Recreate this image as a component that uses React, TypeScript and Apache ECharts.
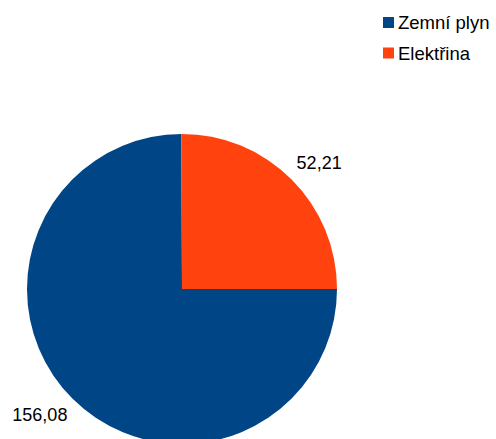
import React, { useEffect, useRef } from "react";
import * as echarts from "echarts";

const categories = ["Zemní plyn", "Elektřina"];
const values = [156.08, 52.21];
const colors = ["#004586", "#ff420e"];

export default function App() {
  const ref = useRef<HTMLDivElement>(null);
  useEffect(() => {
    const chart = echarts.init(ref.current!, null, { renderer: "svg" });
    chart.setOption({
      animation: false,
      backgroundColor: "#ffffff",
      textStyle: { fontFamily: "Liberation Sans" },
      legend: {
        orient: "vertical",
        left: 383,
        top: 13,
        icon: "rect",
        itemWidth: 11,
        itemHeight: 11,
        itemGap: 11.5,
        padding: 0,
        textStyle: { fontSize: 18.5, color: "#000", fontFamily: "Liberation Sans", padding: [0, 0, 0, -1] },
        data: categories,
      },
      series: [
        {
          type: "pie",
          center: [182, 289],
          radius: [0, 155],
          startAngle: 0,
          clockwise: true,
          avoidLabelOverlap: false,
          data: categories.map((c, i) => ({
            name: c,
            value: values[i],
            itemStyle: { color: colors[i] },
          })),
          label: {
            show: true,
            position: "outside",
            formatter: (p: any) => p.value.toFixed(2).replace(".", ","),
            fontSize: 18,
            color: "#000",
            fontFamily: "Liberation Sans",
            distanceToLabelLine: -11,
          },
          labelLine: { show: false, length: 23, length2: 0 },
          emphasis: { disabled: true },
        },
      ],
    });
    return () => chart.dispose();
  }, []);
  return (
    <div
      ref={ref}
      style={{ position: "fixed", left: 0, top: 0, width: 496, height: 439 }}
    />
  );
}
